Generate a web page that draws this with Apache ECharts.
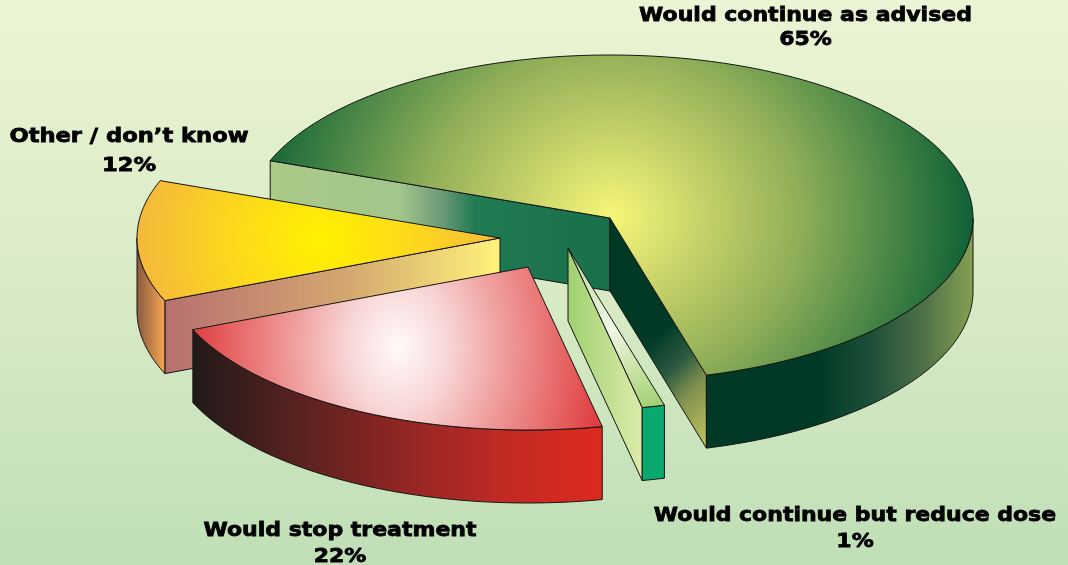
<!DOCTYPE html>
<html><head><meta charset="utf-8">
<style>html,body{margin:0;padding:0;background:#d5e9c5}#c{width:1068px;height:565px}</style>
<script src="https://cdn.jsdelivr.net/npm/echarts@6/dist/echarts.min.js"></script>
</head><body><div id="c"></div>
<script>
// data
const categories = ['Would continue as advised','Would continue but reduce dose','Would stop treatment','Other / don\u2019t know'];
const shares = [65, 1, 22, 12];

// geometry and look of the 3-D pie
const RX = 363, RY = 163, DEPTH = 73, START_DEG = 200.6;
const FONT = {fontFamily:'DejaVu Sans', fontWeight:'bold', fontSize:20, fill:'#000', stroke:'#000', lineWidth:0.8};
const EDGE = '#141414';
const looks = [
 {apex:[610,218], z:10, gradC:[612,216], gradR:363, gradS:.9,
  top:[[0,'#f6f678'],[.3,'#bccb66'],[.52,'#8fae58'],[.75,'#4f8a48'],[1,'#0e6035']],
  wall:[[707,'#003a26'],[820,'#003a26'],[873,'#1e5038'],[923,'#4f7048'],[973,'#84a052']],
  startFace:[[272,'#a9ca88'],[400,'#a2c58a'],[440,'#6f9c78'],[475,'#207a52'],[610,'#18704a']],
  endFace:{from:[600,350],to:[701.5,451.5],stops:[[0,'#003a26'],[.21,'#003a26'],[.45,'#2c5a40'],[.65,'#80904f'],[1,'#c4c45c']]},
  label:[805.5,28,24,1.1]},
 {apex:[568,248], z:20, linear:{from:[568,248],to:[655,408],stops:[[0,'#b4da92'],[.5,'#f0f6e8'],[.72,'#cfe5ae'],[1,'#a0d070']]},
  wall:[[641,'#08aa70'],[664,'#08aa70']],
  endFace:{from:[568,300],to:[641,300],stops:[[0,'#a0d070'],[1,'#dcebaa']]},
  label:[855,529,26,1.1]},
 {apex:[528,267], z:40, gradC:[398,347], gradR:205, gradS:1.3,
  top:[[0,'#fffafa'],[.25,'#f8d5d5'],[.5,'#f0a0a0'],[.75,'#e87070'],[1,'#e04040']],
  wall:[[192,'#201a18'],[300,'#5a2220'],[400,'#8f2624'],[500,'#c02a24'],[601,'#dd2a1f']],
  label:[340,544,26,1.1]},
 {apex:[500,238], z:30, gradC:[322,240], gradR:185, gradS:.9,
  top:[[0,'#fff200'],[.5,'#fcd81c'],[1,'#f5b83c']],
  wall:[[137,'#8a5a40'],[163,'#f0a050']],
  startFace:[[165,'#b87070'],[350,'#d4a870'],[500,'#fff27a']],
  label:[129,151,29,1.13]}
];

const rad = d => d * Math.PI / 180;
const total = shares.reduce((a,b)=>a+b,0);
const cumulative = shares.reduce((acc,v)=>{acc.push(acc[acc.length-1]+v);return acc;},[0]);
const angleAt = c => START_DEG + c / total * 360;

function rimPoint(apex, deg){ return [apex[0]+RX*Math.cos(rad(deg)), apex[1]+RY*Math.sin(rad(deg))]; }
function arc(apex, a, b){
  const pts=[], n=Math.max(2,Math.ceil((b-a)));
  for(let k=0;k<=n;k++) pts.push(rimPoint(apex,a+(b-a)*k/n));
  return pts;
}
const down = p => [p[0], p[1]+DEPTH];
function hGrad(stops){
  const x0=stops[0][0], x1=stops[stops.length-1][0];
  return new echarts.graphic.LinearGradient(x0,0,x1,0,
    stops.map(s=>({offset:(s[0]-x0)/(x1-x0),color:s[1]})),true);
}
function faceGrad(f){
  return new echarts.graphic.LinearGradient(f.from[0],f.from[1],f.to[0],f.to[1],
    f.stops.map(s=>({offset:s[0],color:s[1]})),true);
}
function poly(points, fill, z2, stroke){
  return {type:'polygon',z2,shape:{points},
    style:{fill:fill,stroke:stroke===false?null:EDGE,lineWidth:1,lineJoin:'round'},silent:true};
}

function renderSlice(params, api){
  const i = params.dataIndex, value = api.value(0), L = looks[i];
  const a0 = angleAt(cumulative[i]), a1 = a0 + value/total*360;
  const apex = L.apex, P0 = rimPoint(apex,a0), P1 = rimPoint(apex,a1);
  const kids = []; let z = L.z;
  // cut faces that look towards the viewer
  if(L.startFace && P0[0]<apex[0]) kids.push(poly([apex,P0,down(P0),down(apex)],hGrad(L.startFace),z++));
  if(L.endFace && P1[0]>apex[0]) kids.push(poly([apex,P1,down(P1),down(apex)],faceGrad(L.endFace),z++));
  // outer wall: the front half of the rim only (angle 0..180 in any turn)
  for(const off of [0,360]){
    const lo=Math.max(a0,off), hi=Math.min(a1,off+180);
    if(hi>lo){
      const top=arc(apex,lo,hi);
      kids.push(poly(top.concat(top.map(down).reverse()),hGrad(L.wall),z++));
    }
  }
  // top surface
  const outline=[apex].concat(arc(apex,a0,a1));
  if(L.linear){
    kids.push(poly(outline,faceGrad(L.linear),z++));
  } else {
    const oy=L.gradC[1], s=L.gradS;
    const local=outline.map(p=>[p[0],oy+(p[1]-oy)/s]);
    kids.push({type:'polygon',z2:z++,originX:0,originY:oy,scaleY:s,shape:{points:local},silent:true,
      style:{fill:new echarts.graphic.RadialGradient(L.gradC[0],oy,L.gradR,
        L.top.map(t=>({offset:t[0],color:t[1]})),true)}});
    kids.push(poly(outline,null,z++));
  }
  // label
  kids.push({type:'text',z2:100,x:L.label[0],y:L.label[1],scaleX:L.label[3],silent:true,
    style:Object.assign({x:0,y:0,text:categories[i]+'\n'+value+'%',align:'center',verticalAlign:'middle',lineHeight:L.label[2]},FONT)});
  return {type:'group',children:kids};
}

const chart = echarts.init(document.getElementById('c'),null,{renderer:'canvas'});
chart.setOption({
  animation:false,
  backgroundColor:new echarts.graphic.LinearGradient(0,0,0,1,[
    {offset:0,color:'#ebf4d4'},{offset:.5,color:'#d9ebc6'},{offset:1,color:'#bfdfb6'}]),
  series:[{type:'custom',coordinateSystem:'none',renderItem:renderSlice,
    data:shares.map((v,i)=>({name:categories[i],value:[v,i]}))}]
});
</script></body></html>
